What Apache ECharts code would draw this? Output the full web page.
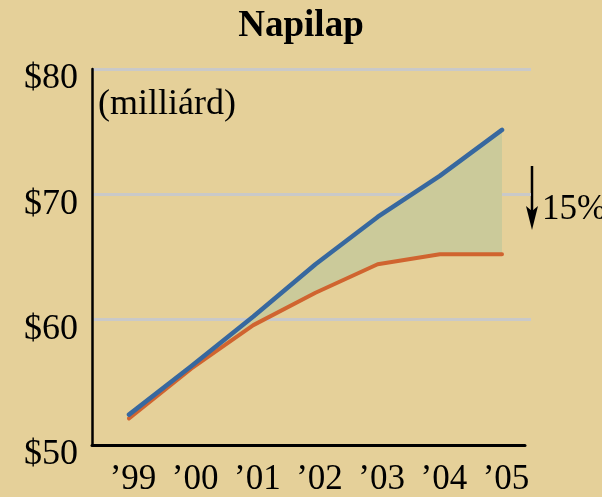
<!DOCTYPE html>
<html>
<head>
<meta charset="utf-8">
<script src="https://cdn.jsdelivr.net/npm/echarts@6/dist/echarts.min.js"></script>
<style>
html,body{margin:0;padding:0;background:#e5d099;}
#chart{width:602px;height:497px;}
</style>
</head>
<body>
<div id="chart"></div>
<script>
var years = ["\u201999", "\u201900", "\u201901", "\u201902", "\u201903", "\u201904", "\u201905"];
var projected = [52.2, 56.1, 60.1, 64.3, 68.1, 71.4, 75.1];
var actual = [51.9, 55.9, 59.4, 62.0, 64.3, 65.1, 65.1];
var yTicks = [50, 60, 70, 80];
var titleText = "Napilap";
var unitText = "(milliárd)";
var dropText = "15%";

var gap = projected.map(function (v, i) { return +(v - actual[i]).toFixed(2); });
var FONT = "'Liberation Serif', 'Times New Roman', serif";
var TOP = 69, BOTTOM = 52;

var chart = echarts.init(document.getElementById('chart'), null, {renderer: 'canvas'});
chart.setOption({
  backgroundColor: '#e5d099',
  animation: false,
  title: {
    text: titleText, left: 'center', top: 3,
    textStyle: {fontFamily: FONT, fontWeight: 'bold', fontSize: 37, color: '#000'}
  },
  grid: [
    {left: 92, right: 71, top: TOP, bottom: BOTTOM},
    {left: 129, right: 100, top: TOP, bottom: BOTTOM},
    {left: 92, right: 77, top: TOP, bottom: BOTTOM}
  ],
  xAxis: [
    {gridIndex: 0, type: 'value', min: 0, max: 1, show: false},
    {gridIndex: 1, type: 'category', data: years, boundaryGap: false,
     axisLine: {show: false}, axisTick: {show: false}, splitLine: {show: false},
     axisLabel: {fontFamily: FONT, fontSize: 35, color: '#000', margin: 20, interval: 0,
       padding: [0, 0, 0, 8]}},
    {gridIndex: 2, type: 'value', min: 0, max: 1,
     axisLine: {show: true, lineStyle: {color: '#000', width: 3}},
     axisTick: {show: false}, axisLabel: {show: false}, splitLine: {show: false}}
  ],
  yAxis: [
    {gridIndex: 0, type: 'value', min: yTicks[0], max: yTicks[yTicks.length - 1], interval: 10,
     axisLine: {show: true, lineStyle: {color: '#000', width: 2.5}},
     axisTick: {show: false},
     axisLabel: {fontFamily: FONT, fontSize: 36, color: '#000', margin: 14,
       verticalAlign: 'top', lineHeight: 20,
       formatter: function (v) { return '$' + v; }},
     splitLine: {show: true, lineStyle: {color: ['rgba(0,0,0,0)', '#c9c9c9', '#c9c9c9', '#c9c9c9'], width: 3}}},
    {gridIndex: 1, type: 'value', min: yTicks[0], max: yTicks[yTicks.length - 1], show: false},
    {gridIndex: 2, type: 'value', min: yTicks[0], max: yTicks[yTicks.length - 1], show: false}
  ],
  series: [
    {type: 'line', xAxisIndex: 1, yAxisIndex: 1, data: actual, stack: 'g',
     symbol: 'none', lineStyle: {width: 0, opacity: 0}, silent: true},
    {type: 'line', xAxisIndex: 1, yAxisIndex: 1, data: gap, stack: 'g',
     symbol: 'none', lineStyle: {width: 0, opacity: 0},
     areaStyle: {color: '#cbca9a', opacity: 1}, silent: true},
    {type: 'line', xAxisIndex: 1, yAxisIndex: 1, data: actual,
     symbol: 'none', lineStyle: {color: '#d0642f', width: 4, cap: 'round', join: 'round'}},
    {type: 'line', xAxisIndex: 1, yAxisIndex: 1, data: projected,
     symbol: 'none', lineStyle: {color: '#37689f', width: 4.5, cap: 'round', join: 'round'}}
  ],
  graphic: [
    {type: 'text', left: 98, top: 87,
     style: {text: unitText, font: '36px ' + FONT, fill: '#000'}},
    {type: 'line', shape: {x1: 532, y1: 166, x2: 532, y2: 212},
     style: {stroke: '#000', lineWidth: 2.5}},
    {type: 'polygon', shape: {points: [[526, 206], [532, 211], [538, 206], [532, 230]]},
     style: {fill: '#000'}},
    {type: 'text', left: 542, top: 192,
     style: {text: dropText, font: '35px ' + FONT, fill: '#000'}}
  ]
});
</script>
</body>
</html>
